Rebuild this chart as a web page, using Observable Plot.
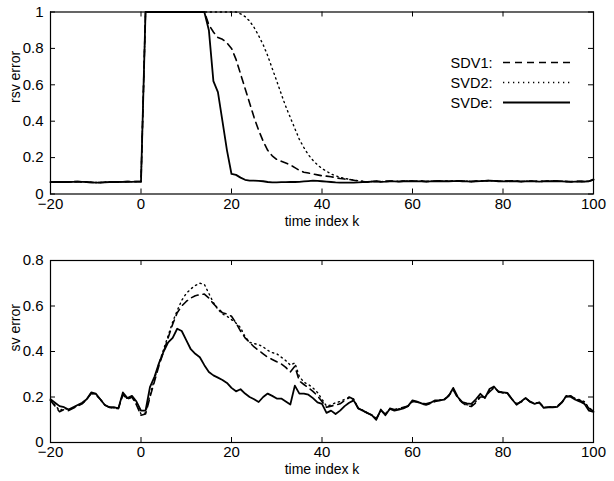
<!DOCTYPE html>
<html><head><meta charset="utf-8">
<script src="https://cdn.jsdelivr.net/npm/d3@7"></script>
<script src="https://cdn.jsdelivr.net/npm/@observablehq/plot@0.6"></script>
<style>
body{margin:0;background:#fff;}
#wrap{position:relative;width:614px;height:481px;font-family:"Liberation Sans",Arial,sans-serif;}
#top,#bottom{position:absolute;left:0;}
#top{top:0;}
#bottom{top:240px;}
</style></head><body>
<div id="wrap"><div id="top"></div><div id="bottom"></div></div>
<script>
// time index k = -20 ... 100 (121 samples)
const kValues = d3.range(-20, 101);
const xTicks = [-20, 0, 20, 40, 60, 80, 100];
const xLabel = "time index k";
const topYTicks = [0, 0.2, 0.4, 0.6, 0.8, 1];
const bottomYTicks = [0, 0.2, 0.4, 0.6, 0.8];
const topYLabel = "rsv error";
const bottomYLabel = "sv error";
const legendLabels = ["SDV1:", "SVD2:", "SVDe:"];

// ---- top panel: rsv error ----
const topSDV1 = [
  0.066,0.066,0.067,0.067,0.066,0.068,0.068,0.067,0.065,0.064,0.063,0.063,0.065,0.066,0.067,0.067,0.067,0.068,0.068,0.068,0.068,
  1,1,1,1,1,1,1,1,1,1,1,1,1,1,
  0.93,0.89,0.86,0.85,0.83,0.80,0.74,0.66,0.58,0.50,0.42,0.35,0.29,0.24,0.21,0.19,0.18,0.17,0.16,0.145,0.13,0.12,0.115,0.11,0.105,0.10,0.098,0.095,0.09,0.085,0.082,0.08,0.076,0.072,0.069,0.066,
  0.069,0.07,0.068,0.069,0.071,0.07,0.069,0.071,0.072,0.071,
  0.07,0.071,0.069,0.07,0.071,0.072,0.071,0.07,0.072,0.073,
  0.071,0.07,0.069,0.071,0.072,0.073,0.074,0.073,0.071,0.07,
  0.071,0.072,0.071,0.069,0.07,0.071,0.07,0.069,0.07,0.071,
  0.072,0.071,0.07,0.069,0.068,0.069,0.07,0.069,0.071,0.078
];
const topSVD2 = [
  0.066,0.066,0.067,0.067,0.066,0.068,0.068,0.067,0.065,0.064,0.063,0.063,0.065,0.066,0.067,0.067,0.067,0.068,0.068,0.068,0.068,
  1,1,1,1,1,1,1,1,1,1,1,1,1,1,1,1,1,1,1,1,1,
  0.99,0.975,0.95,0.915,0.87,0.82,0.76,0.69,0.62,0.55,0.48,0.42,0.36,0.30,0.255,0.215,0.185,0.16,0.14,0.125,0.11,0.10,0.092,0.086,0.081,0.077,0.073,0.07,0.067,
  0.069,0.07,0.068,0.069,0.07,0.07,0.069,0.07,0.071,0.071,
  0.07,0.07,0.069,0.07,0.07,0.071,0.071,0.07,0.071,0.072,
  0.071,0.07,0.069,0.07,0.071,0.072,0.073,0.072,0.071,0.07,
  0.07,0.071,0.07,0.069,0.07,0.07,0.07,0.069,0.07,0.07,
  0.071,0.07,0.07,0.069,0.068,0.068,0.069,0.069,0.07,0.077
];
const topSVDe = [
  0.065,0.066,0.066,0.067,0.066,0.067,0.068,0.067,0.066,0.064,0.062,0.063,0.064,0.066,0.067,0.066,0.067,0.068,0.067,0.068,0.068,
  1,1,1,1,1,1,1,1,1,1,1,1,1,1,
  0.9,0.62,0.56,0.40,0.24,0.11,0.105,0.09,0.078,0.074,0.073,0.072,0.07,0.066,0.064,0.064,0.065,0.065,0.066,0.066,0.067,0.069,0.071,0.073,0.072,0.07,0.068,0.066,0.064,0.063,0.062,0.062,0.063,0.064,0.065,0.066,
  0.068,0.069,0.067,0.068,0.07,0.069,0.068,0.07,0.071,0.07,
  0.069,0.07,0.068,0.069,0.07,0.071,0.07,0.069,0.071,0.072,
  0.07,0.069,0.068,0.07,0.071,0.072,0.073,0.072,0.07,0.069,
  0.07,0.071,0.07,0.068,0.069,0.07,0.069,0.068,0.069,0.07,
  0.071,0.07,0.069,0.068,0.067,0.068,0.069,0.068,0.07,0.08
];

// ---- bottom panel: sv error ----
const bottomSDV1 = [
  0.185,0.16,0.135,0.145,0.14,0.15,0.16,0.17,0.19,0.215,
  0.21,0.19,0.165,0.155,0.15,0.15,0.21,0.19,0.2,0.165,
  0.12,0.125,0.2,0.27,0.34,0.40,0.46,0.52,0.57,0.60,
  0.62,0.635,0.645,0.65,0.652,0.635,0.61,0.59,0.57,0.565,
  0.555,0.525,0.49,0.46,0.44,0.42,0.405,0.39,0.375,0.365,
  0.355,0.345,0.33,0.31,0.335,0.27,0.255,0.24,0.225,0.205,
  0.18,0.155,0.16,0.165,0.17,0.185,0.2,0.19,0.15,0.14,
  0.13,0.12,0.105,0.14,0.125,0.15,0.145,0.15,0.155,0.16,
  0.18,0.178,0.17,0.165,0.172,0.18,0.185,0.188,0.205,0.232,
  0.195,0.175,0.162,0.158,0.175,0.2,0.2,0.222,0.24,0.225,
  0.218,0.215,0.19,0.17,0.178,0.194,0.18,0.172,0.175,0.155,
  0.155,0.155,0.16,0.178,0.2,0.205,0.19,0.185,0.175,0.15,
  0.138
];
const bottomSVD2 = [
  0.185,0.165,0.14,0.15,0.145,0.152,0.162,0.172,0.19,0.218,
  0.212,0.19,0.165,0.155,0.152,0.152,0.215,0.192,0.2,0.17,
  0.125,0.13,0.21,0.28,0.35,0.41,0.47,0.53,0.58,0.625,
  0.655,0.675,0.69,0.70,0.695,0.655,0.615,0.585,0.565,0.555,
  0.54,0.525,0.505,0.465,0.44,0.435,0.43,0.42,0.405,0.395,
  0.39,0.375,0.36,0.34,0.35,0.29,0.265,0.255,0.24,0.22,
  0.19,0.16,0.165,0.175,0.18,0.19,0.195,0.19,0.152,0.142,
  0.13,0.122,0.103,0.142,0.122,0.148,0.143,0.148,0.153,0.16,
  0.182,0.179,0.171,0.168,0.174,0.183,0.186,0.19,0.208,0.236,
  0.198,0.176,0.166,0.163,0.18,0.205,0.198,0.228,0.243,0.224,
  0.22,0.216,0.19,0.168,0.18,0.195,0.18,0.172,0.176,0.154,
  0.156,0.156,0.158,0.176,0.205,0.205,0.193,0.188,0.18,0.152,
  0.14
];
const bottomSVDe = [
  0.19,0.175,0.16,0.155,0.145,0.155,0.165,0.175,0.19,0.22,
  0.215,0.19,0.165,0.155,0.155,0.15,0.22,0.195,0.205,0.18,
  0.14,0.14,0.245,0.29,0.35,0.40,0.44,0.46,0.50,0.49,
  0.45,0.41,0.39,0.375,0.34,0.31,0.295,0.285,0.275,0.262,
  0.24,0.225,0.234,0.215,0.2,0.19,0.178,0.2,0.215,0.205,
  0.193,0.193,0.18,0.167,0.25,0.215,0.215,0.21,0.195,0.176,
  0.17,0.13,0.14,0.125,0.14,0.16,0.175,0.185,0.15,0.14,
  0.13,0.12,0.10,0.145,0.12,0.148,0.14,0.145,0.15,0.16,
  0.185,0.18,0.172,0.17,0.175,0.185,0.185,0.188,0.205,0.24,
  0.20,0.178,0.172,0.17,0.19,0.214,0.195,0.235,0.246,0.222,
  0.22,0.218,0.19,0.166,0.18,0.196,0.178,0.17,0.177,0.152,
  0.155,0.155,0.157,0.175,0.205,0.20,0.188,0.18,0.17,0.14,
  0.135
];

const FONT = "'Liberation Sans', Arial, Helvetica, sans-serif";
const W = 614, ML = 50, MR = 21;
const styles = [
  {dash: "7,5", width: 1.6},
  {dash: "1.3,3.7", width: 1.4},
  {dash: null, width: 1.8}
];

function panel({series, yDomain, yTicks, yLabel, height, mt, mb, legend}) {
  const innerW = W - ML - MR, innerH = height - mt - mb;
  const marks = [];
  series.forEach((vals, si) => {
    const data = kValues.map((k, i) => ({k, v: vals[i]}));
    marks.push(Plot.line(data, {x: "k", y: "v", stroke: "black",
      strokeWidth: styles[si].width, strokeDasharray: styles[si].dash || undefined}));
  });
  marks.push(Plot.frame({stroke: "black", strokeWidth: 1.2}));
  marks.push(Plot.tickX(xTicks, {x: d => d, stroke: "black", insetTop: innerH - 5}));
  marks.push(Plot.tickX(xTicks, {x: d => d, stroke: "black", insetBottom: innerH - 5}));
  marks.push(Plot.tickY(yTicks, {y: d => d, stroke: "black", insetRight: innerW - 5}));
  marks.push(Plot.tickY(yTicks, {y: d => d, stroke: "black", insetLeft: innerW - 5}));
  marks.push(Plot.axisX(xTicks, {tickSize: 0, tickPadding: 4, fontSize: 15, label: null}));
  marks.push(Plot.axisY(yTicks, {tickSize: 0, tickPadding: 7, fontSize: 15, label: null, tickFormat: d => String(d)}));
  marks.push(Plot.text([xLabel], {frameAnchor: "bottom", lineAnchor: "middle", dy: 27.5, text: d => d, fontSize: 14, fill: "black"}));
  marks.push(Plot.text([yLabel], {frameAnchor: "left", lineAnchor: "middle", dx: -35, rotate: -90, text: d => d, fontSize: 14, fill: "black"}));
  if (legend) {
    legendLabels.forEach((lab, i) => {
      marks.push(Plot.text([lab], {frameAnchor: "top-left", lineAnchor: "middle", dx: 442, dy: 51 + i * 20, text: d => d,
        textAnchor: "end", fontSize: 14.5, fill: "black"}));
    });
  }
  const svg = Plot.plot({
    width: W, height, marginLeft: ML, marginRight: MR, marginTop: mt, marginBottom: mb,
    x: {domain: [-20, 100], label: null},
    y: {domain: yDomain, label: null},
    style: {fontFamily: FONT, fontSize: "14px", color: "black", background: "white"},
    marks
  });
  if (legend) {
    const s = d3.select(svg);
    legendLabels.forEach((lab, i) => {
      const yy = mt + 51 + i * 20;
      const l = s.append("line").attr("x1", 503).attr("x2", 570).attr("y1", yy).attr("y2", yy)
        .attr("stroke", "black").attr("stroke-width", styles[i].width);
      if (styles[i].dash) l.attr("stroke-dasharray", styles[i].dash);
    });
  }
  return svg;
}

document.getElementById("top").appendChild(panel({
  series: [topSDV1, topSVD2, topSVDe], yDomain: [0, 1], yTicks: topYTicks, yLabel: topYLabel,
  height: 240, mt: 11.5, mb: 46.5, legend: true
}));
document.getElementById("bottom").appendChild(panel({
  series: [bottomSDV1, bottomSVD2, bottomSVDe], yDomain: [0, 0.8], yTicks: bottomYTicks, yLabel: bottomYLabel,
  height: 241, mt: 20, mb: 39, legend: false
}));
</script>
</body></html>
